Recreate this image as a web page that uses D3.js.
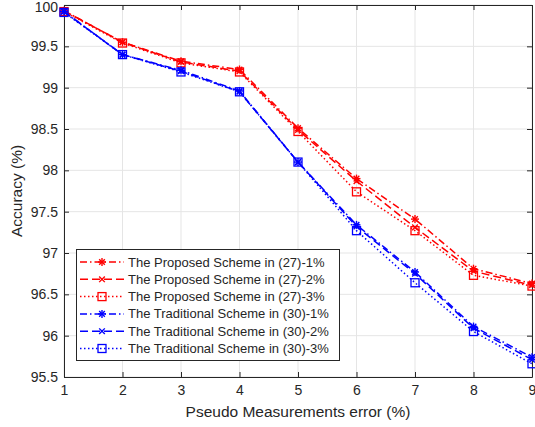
<!DOCTYPE html>
<html>
<head>
<meta charset="utf-8">
<script src="https://cdn.jsdelivr.net/npm/d3@7"></script>
<style>
  body { margin: 0; background: #fff; }
  text { font-family: "Liberation Sans", Arial, sans-serif; fill: #262626; }
</style>
</head>
<body>
<svg id="chart" width="535" height="427"></svg>
<script>
'use strict';

// x values and tick labels
var errors = [1, 2, 3, 4, 5, 6, 7, 8, 9];
var yTicks = [95.5, 96, 96.5, 97, 97.5, 98, 98.5, 99, 99.5, 100];

// series values
var proposed1 = [99.93, 99.55, 99.32, 99.22, 98.51, 97.90, 97.41, 96.81, 96.63];
var proposed2 = [99.93, 99.55, 99.31, 99.20, 98.49, 97.87, 97.31, 96.78, 96.61];
var proposed3 = [99.92, 99.54, 99.30, 99.19, 98.47, 97.74, 97.27, 96.73, 96.60];
var traditional1 = [99.92, 99.40, 99.21, 98.96, 98.10, 97.34, 96.77, 96.11, 95.74];
var traditional2 = [99.92, 99.40, 99.20, 98.95, 98.10, 97.32, 96.75, 96.09, 95.71];
var traditional3 = [99.91, 99.40, 99.19, 98.95, 98.10, 97.27, 96.64, 96.05, 95.66];

var names = [
  'The Proposed Scheme in (27)-1%',
  'The Proposed Scheme in (27)-2%',
  'The Proposed Scheme in (27)-3%',
  'The Traditional Scheme in (30)-1%',
  'The Traditional Scheme in (30)-2%',
  'The Traditional Scheme in (30)-3%'
];

var series = [
  {values: proposed1, color: '#ff0000', dash: '7,3,1.5,3', marker: 'star'},
  {values: proposed2, color: '#ff0000', dash: '8,4', marker: 'x'},
  {values: proposed3, color: '#ff0000', dash: '1.5,2.5', marker: 'square'},
  {values: traditional1, color: '#0000ff', dash: '7,3,1.5,3', marker: 'star'},
  {values: traditional2, color: '#0000ff', dash: '8,4', marker: 'x'},
  {values: traditional3, color: '#0000ff', dash: '1.5,2.5', marker: 'square'}
];

var pLeft = 64, pRight = 532, pTop = 5, pBottom = 377;

var svg = d3.select('#chart');

var x = d3.scaleLinear().domain([1, 9]).range([pLeft, pRight]);
var y = d3.scaleLinear().domain([95.5, 100]).range([pBottom, pTop]);

// grid
svg.append('g').selectAll('line').data(errors).enter().append('line')
  .attr('x1', function(d) { return x(d); }).attr('x2', function(d) { return x(d); })
  .attr('y1', pTop).attr('y2', pBottom)
  .attr('stroke', '#e5e5e5').attr('stroke-width', 1);
svg.append('g').selectAll('line').data(yTicks).enter().append('line')
  .attr('y1', function(d) { return y(d); }).attr('y2', function(d) { return y(d); })
  .attr('x1', pLeft).attr('x2', pRight)
  .attr('stroke', '#e5e5e5').attr('stroke-width', 1);

// axes (inward ticks, box on)
var axisColor = '#262626';
function styleAxis(g) {
  g.select('.domain').attr('stroke', axisColor);
  g.selectAll('.tick line').attr('stroke', axisColor);
  g.selectAll('.tick text').attr('fill', '#404040')
    .style('font-size', '14px').style('font-family', '"Liberation Sans", Arial, sans-serif');
}

svg.append('g').attr('transform', 'translate(0,' + pBottom + ')')
  .call(d3.axisBottom(x).tickValues(errors).tickSize(-5).tickSizeOuter(0).tickPadding(8))
  .call(styleAxis);
svg.append('g').attr('transform', 'translate(0,' + pTop + ')')
  .call(d3.axisTop(x).tickValues(errors).tickSize(-5).tickSizeOuter(0).tickFormat(''))
  .call(styleAxis);
var yAxis = svg.append('g').attr('transform', 'translate(' + pLeft + ',0)')
  .call(d3.axisLeft(y).tickValues(yTicks).tickSize(-5).tickSizeOuter(0).tickPadding(6)
    .tickFormat(function(d) { return d3.format('')(d); }))
  .call(styleAxis);
// keep the top label inside the window
yAxis.selectAll('.tick text').filter(function(d) { return d === 100; }).attr('dy', '0.45em');

svg.append('g').attr('transform', 'translate(' + pRight + ',0)')
  .call(d3.axisRight(y).tickValues(yTicks).tickSize(-5).tickSizeOuter(0).tickFormat(''))
  .call(styleAxis);

// labels
svg.append('text').attr('x', (pLeft + pRight) / 2).attr('y', 417)
  .attr('text-anchor', 'middle').style('font-size', '15.5px').attr('fill', '#404040')
  .text('Pseudo Measurements error (%)');
svg.append('text').attr('transform', 'translate(22,' + ((pTop + pBottom) / 2) + ') rotate(-90)')
  .attr('text-anchor', 'middle').style('font-size', '15.5px').attr('fill', '#404040')
  .text('Accuracy (%)');

// markers
function drawMarker(g, type, cx, cy, color) {
  var s = 4;
  if (type === 'square') {
    g.append('rect').attr('x', cx - s).attr('y', cy - s).attr('width', 2 * s).attr('height', 2 * s)
      .attr('fill', 'none').attr('stroke', color).attr('stroke-width', 1.3);
  } else {
    var angles = type === 'x' ? [45, 135] : [0, 45, 90, 135];
    angles.forEach(function(a) {
      var r = a * Math.PI / 180;
      g.append('line')
        .attr('x1', cx - s * Math.cos(r)).attr('y1', cy - s * Math.sin(r))
        .attr('x2', cx + s * Math.cos(r)).attr('y2', cy + s * Math.sin(r))
        .attr('stroke', color).attr('stroke-width', 1.4);
    });
  }
}

var line = d3.line()
  .x(function(d, i) { return x(errors[i]); })
  .y(function(d) { return y(d); });

var plot = svg.append('g');
series.forEach(function(s) {
  plot.append('path').datum(s.values)
    .attr('d', line)
    .attr('fill', 'none').attr('stroke', s.color).attr('stroke-width', 1.5)
    .attr('stroke-dasharray', s.dash);
  var mg = plot.append('g');
  s.values.forEach(function(v, i) { drawMarker(mg, s.marker, x(errors[i]), y(v), s.color); });
});

// legend
var lg = svg.append('g');
lg.append('rect').attr('x', 76.5).attr('y', 249.5).attr('width', 263).attr('height', 111)
  .attr('fill', '#fff').attr('stroke', axisColor).attr('stroke-width', 1);
series.forEach(function(s, i) {
  var ly = 262 + i * 17.3;
  lg.append('line').attr('x1', 80).attr('x2', 124).attr('y1', ly).attr('y2', ly)
    .attr('stroke', s.color).attr('stroke-width', 1.5).attr('stroke-dasharray', s.dash);
  drawMarker(lg, s.marker, 102, ly, s.color);
  lg.append('text').attr('x', 128).attr('y', ly + 4.5)
    .style('font-size', '13px').attr('fill', '#262626')
    .text(names[i]);
});
</script>
</body>
</html>
